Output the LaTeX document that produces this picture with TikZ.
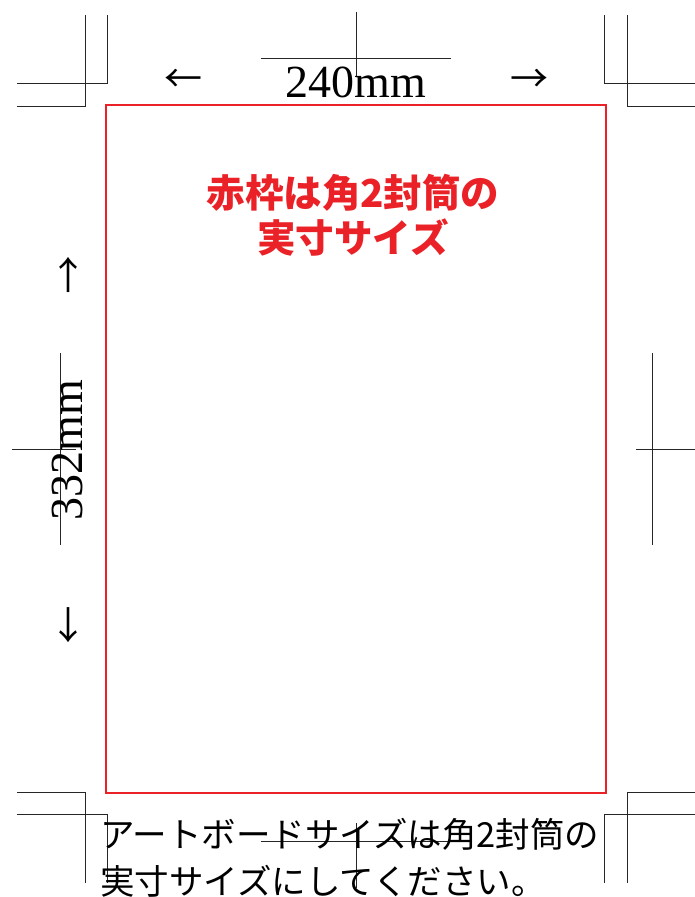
\documentclass[tikz,border=0pt]{standalone}
\usepackage{fontspec}
\newfontfamily\jpfont{Noto Sans CJK JP}
\newfontfamily\dimfont{Liberation Serif}
\definecolor{framered}{RGB}{234,34,40}

\begin{document}
\begin{tikzpicture}[x=1pt,y=-1pt,
    crop/.style={draw=black!85,line width=0.9pt},
    dimlabel/.style={inner sep=0pt,font=\dimfont\fontsize{46}{46}\selectfont},
    dimarrow/.style={inner sep=0pt,font=\jpfont\fontsize{38}{38}\selectfont},
    redtext/.style={inner sep=0pt,text=framered,font=\jpfont\bfseries\fontsize{38.5}{38.5}\selectfont},
    notetext/.style={inner sep=0pt,anchor=base west,font=\jpfont\fontsize{34.5}{34.5}\selectfont}]
    \useasboundingbox (0,0) rectangle (695,897);

    \draw[crop] (17,83) -- (107,83) -- (107,15);
    \draw[crop] (17,106) -- (85,106) -- (85,15);
    \draw[crop] (695,83) -- (604,83) -- (604,15);
    \draw[crop] (695,106) -- (627,106) -- (627,15);
    \draw[crop] (17,814) -- (107,814) -- (107,883);
    \draw[crop] (17,792) -- (85,792) -- (85,883);
    \draw[crop] (695,814) -- (604,814) -- (604,883);
    \draw[crop] (695,792) -- (627,792) -- (627,883);

    \draw[crop] (261,58) -- (451,58) (356,12) -- (356,76);
    \draw[crop] (261,841) -- (451,841) (356,823) -- (356,888);
    \draw[crop] (60,353) -- (60,545) (12,449) -- (76,449);
    \draw[crop] (652,353) -- (652,545) (636,449) -- (695,449);

    \draw[framered,line width=2pt] (106,105) rectangle (606,793);

    \node[dimlabel,anchor=base] (wlabel) at (356,97) {240mm};
    \node[dimarrow] (wleft) at (183,81) {←};
    \node[dimarrow] (wright) at (529,81) {→};
    \node[dimlabel,rotate=90,anchor=base] (hlabel) at (82,450) {332mm};
    \node[dimarrow] (hup) at (68,275) {↑};
    \node[dimarrow] (hdown) at (68,625) {↓};

    \node[redtext] (title1) at (353,193) {赤枠は角2封筒の};
    \node[redtext] (title2) at (353,238) {実寸サイズ};

    \node[notetext] (note1) at (100,847) {アートボードサイズは角2封筒の};
    \node[notetext] (note2) at (100,894) {実寸サイズにしてください。};
\end{tikzpicture}
\end{document}
